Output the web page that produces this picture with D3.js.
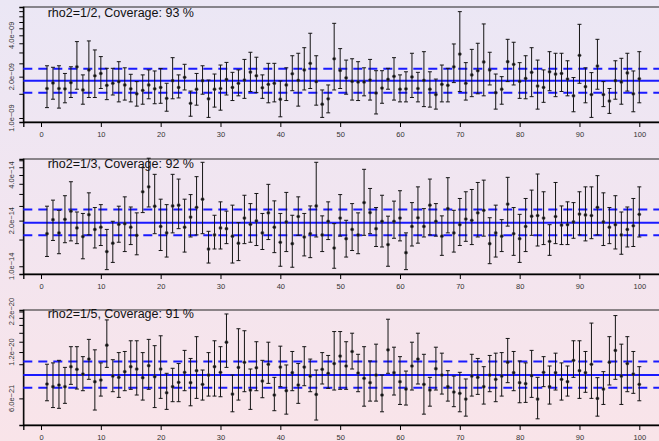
<!DOCTYPE html>
<html>
<head>
<meta charset="utf-8">
<script src="https://cdn.jsdelivr.net/npm/d3@7"></script>
<style>
  html, body { margin: 0; padding: 0; }
  body { width: 659px; height: 441px; overflow: hidden; }
  svg { display: block; font-family: "Liberation Sans", Arial, sans-serif; }
</style>
</head>
<body>
<div id="chart"></div>
<script>
// index 1..100, estimates and CI ends per panel
const idx = d3.range(1, 101);
const xTicks = [0, 10, 20, 30, 40, 50, 60, 70, 80, 90, 100];

// panel 1, units of 1e-9
const est1 = [1.64,1.80,1.64,1.63,1.81,2.36,1.60,2.24,2.03,2.11, 1.73,1.79,1.84,1.74,1.63,1.50,1.59,1.74,1.63,1.67,
  1.39,1.87,1.67,1.98,1.28,1.62,1.87,1.38,1.62,1.64, 1.91,1.67,1.79,1.89,2.16,2.03,1.66,1.76,1.79,1.37,
  1.74,2.10,1.88,2.24,2.50,1.84,1.26,1.38,2.70,2.22, 1.96,1.85,1.83,1.83,1.89,1.52,1.65,1.91,2.01,1.62,
  1.63,1.99,1.64,1.88,1.62,1.48,1.76,1.73,2.36,2.92, 1.79,2.06,2.21,2.56,2.24,1.53,1.62,2.57,2.46,1.85,
  1.94,2.15,1.71,1.67,2.17,2.09,2.11,1.92,1.45,2.86, 1.69,1.48,2.39,1.48,1.33,1.87,1.83,2.13,1.50,1.93];
const hi1 = [2.40,2.34,2.40,2.11,2.36,3.60,2.06,3.64,3.13,2.80, 2.30,2.30,2.57,2.32,2.08,1.84,2.06,2.24,2.20,2.29,
  1.79,2.75,2.06,2.46,1.57,2.11,2.40,1.89,2.09,2.43, 2.54,2.15,2.24,2.67,3.01,2.77,2.06,2.50,2.50,1.86,
  2.32,2.84,2.96,3.25,4.14,2.84,1.60,1.74,4.89,3.20, 2.64,2.70,2.57,2.32,2.67,2.21,2.21,2.30,2.75,2.06,
  2.17,2.96,2.15,3.04,2.17,1.92,2.43,2.30,3.46,5.95, 2.53,3.16,3.50,4.84,3.01,2.09,2.00,3.74,3.56,2.53,
  2.84,3.25,2.64,2.24,3.04,2.96,2.96,2.61,1.97,4.81, 2.32,2.14,3.74,1.84,1.64,2.61,2.72,2.96,2.20,3.04];
const lo1 = [1.19,1.37,1.18,1.29,1.41,1.62,1.26,1.41,1.41,1.64, 1.36,1.47,1.31,1.35,1.31,1.22,1.26,1.38,1.27,1.28,
  1.12,1.38,1.40,1.60,1.03,1.24,1.49,1.01,1.20,1.14, 1.47,1.34,1.45,1.39,1.56,1.53,1.39,1.29,1.31,1.02,
  1.34,1.58,1.22,1.60,1.64,1.24,1.01,1.09,1.60,1.64, 1.49,1.35,1.34,1.45,1.35,1.07,1.28,1.62,1.35,1.31,
  1.31,1.41,1.31,1.21,1.20,1.16,1.31,1.31,1.81,1.56, 1.35,1.43,1.50,1.45,1.74,1.16,1.26,1.84,1.74,1.39,
  1.38,1.43,1.16,1.30,1.58,1.43,1.56,1.45,1.11,1.79, 1.29,1.01,1.62,1.21,1.08,1.37,1.26,1.57,1.11,1.29];

// panel 2, units of 1e-14
const est2 = [1.64,2.03,1.66,2.04,2.31,1.79,1.57,2.19,1.75,1.81, 1.25,1.42,1.89,1.91,1.81,1.60,3.10,3.34,2.49,1.83,
  1.66,2.50,2.53,1.81,2.11,2.45,2.77,1.30,1.61,1.79, 1.77,1.58,1.42,2.08,1.89,1.99,1.66,2.25,1.81,1.44,
  1.96,1.41,2.13,1.56,1.64,2.50,1.61,1.98,1.32,2.08, 1.52,1.75,1.61,2.63,2.26,1.77,1.98,1.39,1.98,2.08,
  1.23,1.83,2.09,1.83,2.53,1.98,1.58,2.40,1.66,1.88, 2.05,2.01,2.25,2.34,1.41,1.66,1.58,2.57,1.64,1.52,
  1.83,2.14,2.16,2.08,1.46,2.13,1.87,1.88,1.96,2.21, 2.18,2.16,2.45,1.96,1.81,1.88,1.61,1.75,1.85,2.20];
const hi2 = [2.49,2.73,2.34,2.92,3.61,2.28,2.23,3.05,2.44,2.55, 1.75,1.98,2.49,2.87,2.46,2.25,4.47,5.16,4.04,2.77,
  2.55,4.04,3.76,2.77,2.97,3.90,4.85,1.70,2.17,2.66, 2.31,2.53,1.94,2.94,2.59,3.02,2.23,3.47,2.70,2.23,
  3.07,2.17,2.87,2.23,2.50,4.85,2.15,2.66,1.91,2.97, 2.01,2.59,2.25,4.36,3.26,2.44,2.94,2.14,2.69,3.15,
  1.66,2.63,3.34,2.40,3.76,2.59,2.15,3.84,2.34,2.80, 3.10,3.21,3.57,3.70,2.09,2.53,2.03,3.86,2.44,2.20,
  2.80,3.18,4.06,3.10,1.88,3.57,2.50,2.66,2.63,3.10, 3.34,3.34,3.96,3.05,2.44,2.92,2.28,2.46,2.80,3.34];
const lo2 = [1.16,1.48,1.21,1.43,1.47,1.41,1.12,1.61,1.32,1.37, 0.95,1.06,1.44,1.25,1.39,1.19,2.26,2.46,1.64,1.27,
  1.15,1.66,1.77,1.24,1.56,1.61,1.64,1.05,1.30,1.30, 1.41,1.05,1.09,1.41,1.44,1.37,1.29,1.50,1.23,1.00,
  1.25,0.985,1.60,1.17,1.14,1.56,1.25,1.50,0.97,1.58, 1.15,1.27,1.21,1.60,1.64,1.35,1.34,1.00,1.53,1.47,
  0.95,1.36,1.42,1.56,1.61,1.58,1.18,1.66,1.24,1.37, 1.46,1.39,1.56,1.58,1.04,1.15,1.25,1.84,1.18,1.06,
  1.25,1.60,1.36,1.39,1.18,1.41,1.39,1.39,1.53,1.61, 1.47,1.52,1.61,1.37,1.41,1.30,1.20,1.34,1.35,1.56];

// panel 3, units of 1e-21
const est3 = [7.44,7.15,7.33,7.15,9.64,9.27,8.64,10.8,7.70,7.90, 13.3,8.38,8.22,8.95,9.64,9.31,8.18,9.79,8.30,9.31,
  6.53,7.15,7.63,8.86,7.59,9.08,7.40,8.51,9.64,8.86, 13.9,6.40,9.54,10.3,6.80,9.49,7.78,10.0,6.31,9.59,
  6.73,8.81,7.33,9.59,8.38,6.37,9.27,8.73,10.1,11.3, 9.74,12.1,8.77,8.10,7.59,8.51,6.31,12.4,8.81,7.70,
  6.90,9.74,10.8,7.40,6.80,9.36,8.51,7.15,6.60,6.47, 5.94,8.38,8.22,7.15,8.51,7.98,8.38,10.3,8.81,7.59,
  7.48,8.43,5.94,8.86,7.15,8.81,7.98,7.70,10.6,9.08, 8.81,10.0,6.00,6.90,10.3,12.3,8.38,10.1,8.64,7.40];
const hi3 = [10.0,10.2,10.6,9.54,13.0,13.0,11.2,14.5,12.4,10.2, 19.4,10.7,11.9,12.1,14.2,14.2,11.9,14.5,13.2,15.3,
  8.73,9.41,10.1,12.3,10.9,15.1,9.17,11.9,14.2,13.0, 21.2,8.51,17.0,16.5,9.31,14.0,10.6,13.9,8.22,13.1,
  9.89,12.1,10.1,13.0,10.8,9.17,11.9,11.4,16.3,16.3, 14.0,15.9,11.6,13.0,10.5,13.5,8.51,19.6,12.9,11.2,
  9.03,13.9,15.9,11.6,8.22,12.9,11.8,9.08,8.38,8.86, 8.02,11.6,10.9,9.64,11.4,11.8,11.9,14.7,12.1,10.5,
  10.2,12.3,8.22,11.2,9.74,11.8,10.2,9.74,14.2,14.2, 12.1,18.5,8.18,8.95,15.1,20.7,13.5,15.1,12.1,9.64];
const lo3 = [5.79,5.23,5.17,5.57,7.40,6.90,6.73,7.98,5.04,6.21, 9.54,6.63,6.09,6.73,6.87,6.31,5.85,6.87,5.23,6.00,
  5.09,5.71,5.71,6.73,5.37,6.00,5.85,6.21,6.21,6.15, 9.54,4.91,5.85,6.63,5.09,6.73,6.06,7.51,4.99,7.15,
  4.74,6.73,5.57,7.25,6.63,4.34,7.44,6.97,6.80,6.87, 6.87,9.31,6.63,5.34,5.76,5.76,4.91,8.73,6.31,5.48,
  5.43,6.80,7.44,4.74,5.34,6.80,6.40,5.76,5.30,4.91, 4.60,6.21,6.37,5.51,6.63,5.71,6.21,7.59,6.73,5.62,
  5.65,6.09,4.42,7.15,5.51,6.80,5.85,6.21,8.22,6.00, 6.57,6.00,4.60,5.48,7.33,7.98,5.48,6.63,6.47,5.79];

const titles = ["rho2=1/2, Coverage: 93 %", "rho2=1/3, Coverage: 92 %", "rho2=1/5, Coverage: 91 %"];
const units = [1e-9, 1e-14, 1e-21];
const truth = [1.87, 1.94, 8.51];
const band = [[1.53, 2.28], [1.60, 2.37], [7.04, 10.4]];
const yDomains = [[0.935, 6.43], [0.889, 5.10], [4.03, 22.5]];
const yTicks = [
  [1.0, 1.5, 2.0, 2.5, 3.0, 3.5, 4.0, 4.5, 5.0, 5.5, 6.0],
  [1.0, 1.5, 2.0, 2.5, 3.0, 3.5, 4.0, 4.5, 5.0],
  [6, 10, 12, 14, 16, 18, 20, 22]
];
const yLabels = [
  {1.0: "1.0e\u221209", 2.0: "2.0e\u221209", 4.0: "4.0e\u221209"},
  {1.0: "1.0e\u221214", 2.0: "2.0e\u221214", 4.0: "4.0e\u221214"},
  {6: "6.0e\u221221", 12: "1.2e\u221220", 22: "2.2e\u221220"}
];

const panels = [
  {est: est1, lo: lo1, hi: hi1, top: 7, titleY: 17},
  {est: est2, lo: lo2, hi: hi2, top: 159, titleY: 167.5},
  {est: est3, lo: lo3, hi: hi3, top: 310, titleY: 317.5}
].map((p, k) => Object.assign(p, {
  title: titles[k], unit: units[k], truth: truth[k], band: band[k],
  dom: yDomains[k], ticks: yTicks[k], labels: yLabels[k]
}));

const width = 659, height = 441;
const panelH = 115;
const left = 23.3;

const svg = d3.select("#chart").append("svg")
  .attr("width", width)
  .attr("height", height);

const grad = svg.append("defs").append("linearGradient")
  .attr("id", "bg").attr("x1", 0).attr("y1", 0).attr("x2", 0).attr("y2", 1);
grad.append("stop").attr("offset", "0%").attr("stop-color", "#ebe7f5");
grad.append("stop").attr("offset", "50%").attr("stop-color", "#f2e5f0");
grad.append("stop").attr("offset", "100%").attr("stop-color", "#f9e4e9");

svg.append("rect").attr("width", width).attr("height", height).attr("fill", "url(#bg)");

const x = d3.scaleLinear().domain([-2.96, 103.96]).range([left, 663]);

panels.forEach((p) => {
  const bottom = p.top + panelH;
  const y = d3.scaleLog()
    .domain(p.dom.map((d) => d * p.unit))
    .range([bottom, p.top]);

  const g = svg.append("g");

  // box
  g.append("rect")
    .attr("x", left).attr("y", p.top)
    .attr("width", 663 - left).attr("height", panelH)
    .attr("fill", "none").attr("stroke", "#222").attr("stroke-width", 1);

  // x axis
  const xa = g.append("g")
    .attr("transform", "translate(0," + bottom + ")")
    .call(d3.axisBottom(x).tickValues(xTicks).tickSize(5).tickPadding(5));
  xa.select(".domain").attr("stroke", "#000").attr("stroke-width", 1.3);
  xa.selectAll(".tick line").attr("stroke", "#000");
  xa.selectAll(".tick text").attr("font-size", "7.5px").attr("fill", "#333")
    .attr("font-family", "Liberation Sans, Arial, sans-serif");

  // y axis
  const ya = g.append("g")
    .attr("transform", "translate(" + left + ",0)")
    .call(d3.axisLeft(y)
      .tickValues(p.ticks.map((t) => t * p.unit))
      .tickSize(4)
      .tickFormat(""));
  ya.select(".domain").attr("stroke", "#000").attr("stroke-width", 1.3);
  ya.selectAll(".tick line").attr("stroke", "#000");

  g.selectAll("text.ylab")
    .data(p.ticks.filter((t) => p.labels[t]))
    .enter().append("text")
    .attr("class", "ylab")
    .attr("transform", (t) => "translate(14," + y(t * p.unit) + ") rotate(-90)")
    .attr("text-anchor", "middle")
    .attr("font-size", "7.5px")
    .attr("fill", "#333")
    .text((t) => p.labels[t]);

  // reference lines
  g.append("line")
    .attr("x1", left).attr("x2", 663)
    .attr("y1", y(p.truth * p.unit)).attr("y2", y(p.truth * p.unit))
    .attr("stroke", "#1a1aff").attr("stroke-width", 2);
  g.selectAll("line.band")
    .data(p.band)
    .enter().append("line")
    .attr("class", "band")
    .attr("x1", left).attr("x2", 663)
    .attr("y1", (d) => y(d * p.unit)).attr("y2", (d) => y(d * p.unit))
    .attr("stroke", "#1a1aff").attr("stroke-width", 2)
    .attr("stroke-dasharray", "9,6");

  // error bars
  const pts = idx.map((i, j) => ({i: i, c: p.est[j] * p.unit, lo: p.lo[j] * p.unit, hi: p.hi[j] * p.unit}));
  const bars = g.append("g").attr("stroke", "#151515").attr("stroke-width", 1);
  bars.selectAll("line.bar")
    .data(pts).enter().append("line")
    .attr("x1", (d) => x(d.i)).attr("x2", (d) => x(d.i))
    .attr("y1", (d) => y(d.lo)).attr("y2", (d) => y(d.hi));
  bars.selectAll("line.capHi")
    .data(pts).enter().append("line")
    .attr("x1", (d) => x(d.i) - 2).attr("x2", (d) => x(d.i) + 2)
    .attr("y1", (d) => y(d.hi)).attr("y2", (d) => y(d.hi));
  bars.selectAll("line.capLo")
    .data(pts).enter().append("line")
    .attr("x1", (d) => x(d.i) - 2).attr("x2", (d) => x(d.i) + 2)
    .attr("y1", (d) => y(d.lo)).attr("y2", (d) => y(d.lo));

  g.selectAll("circle.pt")
    .data(pts).enter().append("circle")
    .attr("cx", (d) => x(d.i)).attr("cy", (d) => y(d.c))
    .attr("r", 1.6)
    .attr("fill", "#111").attr("stroke", "#555").attr("stroke-width", 0.5);

  g.append("text")
    .attr("x", 47.7).attr("y", p.titleY)
    .attr("font-size", "12.5px")
    .attr("fill", "#111")
    .text(p.title);
});
</script>
</body>
</html>
